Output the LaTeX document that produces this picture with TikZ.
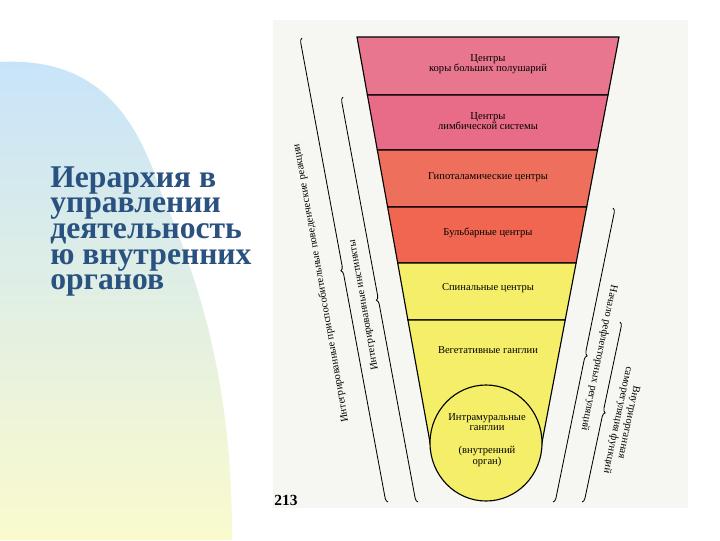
\documentclass[tikz,border=0pt]{standalone}
\usepackage{fontspec}
\setmainfont{Liberation Serif}
\usepackage{tikz}
\usetikzlibrary{decorations.pathreplacing}
\definecolor{titleblue}{RGB}{42,82,128}
\definecolor{paper}{RGB}{246,246,242}
\definecolor{cortexpink}{RGB}{233,118,143}
\definecolor{limbpink}{RGB}{232,108,135}
\definecolor{hypored}{RGB}{238,112,92}
\definecolor{bulbred}{RGB}{240,102,80}
\definecolor{spinyellow}{RGB}{245,238,105}
\definecolor{skyblue}{RGB}{200,228,250}
\definecolor{mintpale}{RGB}{230,243,232}
\definecolor{lemonpale}{RGB}{250,250,205}

\begin{document}
\begin{tikzpicture}[x=0.025cm, y=-0.025cm,
  band/.style={font=\fontsize{7.5}{7.5}\selectfont, align=center, inner sep=0pt},
  bracetext/.style={font=\fontsize{7.5}{8}\selectfont, align=center, inner sep=0pt},
  bracket/.style={decorate, decoration={brace, amplitude=3pt, aspect=0.5}, line width=0.6pt}]
\useasboundingbox (0,0) rectangle (720,540);
\fill[white] (0,0) rectangle (720,540);
\shade[top color=skyblue, middle color=mintpale, bottom color=lemonpale] (0,540) -- (0,62) .. controls (80,58) and (130,95) .. (160,190) .. controls (215,315) and (232,420) .. (232,540) -- cycle;
\node[anchor=north west, align=left, inner sep=0pt, text=titleblue, font=\fontsize{22.5}{18.3}\selectfont\bfseries] (title) at (50,166) {Иерархия в\\управлении\\деятельность\\ю внутренних\\органов};

\fill[paper] (273,20) rectangle (688,508);
\filldraw[fill=cortexpink, line width=0.8pt] (357,37) -- (619,37) -- (608,95) -- (367.4,95) -- cycle;
\filldraw[fill=limbpink, line width=0.8pt] (367.4,95) -- (608,95) -- (597.5,150) -- (377.3,150) -- cycle;
\filldraw[fill=hypored, line width=0.8pt] (377.3,150) -- (597.5,150) -- (586.7,207) -- (387.6,207) -- cycle;
\filldraw[fill=bulbred, line width=0.8pt] (387.6,207) -- (586.7,207) -- (576.1,263) -- (397.7,263) -- cycle;
\filldraw[fill=spinyellow, line width=0.8pt] (397.7,263) -- (576.1,263) -- (565.2,320) -- (407.9,320) -- cycle;
\filldraw[fill=spinyellow, line width=0.8pt] (407.9,320) -- (565.2,320) -- (541.9,443) -- (430.1,443) -- cycle;
\filldraw[fill=spinyellow, line width=0.8pt] (486,443) ellipse [x radius=56, y radius=58];

\node[band] (cortex) at (488,64) {Центры\\коры больших полушарий};
\node[band] (limbic) at (488,121) {Центры\\лимбической системы};
\node[band] (hypo) at (488,177) {Гипоталамические центры};
\node[band] (bulb) at (488,233) {Бульбарные центры};
\node[band] (spinal) at (488,288) {Спинальные центры};
\node[band] (veget) at (488,350) {Вегетативные ганглии};
\node[band] (intra) at (487,440) {Интрамуральные\\ганглии\\[9pt](внутренний\\орган)};

\coordinate (reactTop) at (302,38);
\coordinate (reactBot) at (388,502);
\coordinate (instTop) at (343,97);
\coordinate (instBot) at (418,502);
\coordinate (reflTop) at (613,208);
\coordinate (reflBot) at (553,502);
\coordinate (selfTop) at (620,322);
\coordinate (selfBot) at (582,502);
\draw[bracket] (reactBot) -- (reactTop);
\draw[bracket] (instBot) -- (instTop);
\draw[bracket] (reflTop) -- (reflBot);
\draw[bracket] (selfTop) -- (selfBot);

\node[bracetext, rotate=100] (react) at (321,283) {Интегрированные приспособительные поведенческие реакции};
\node[bracetext, rotate=100] (instinct) at (364,305) {Интегрированные инстинкты};
\node[bracetext, rotate=-101.5] (reflex) at (599,358) {Начало рефлекторных регуляций};
\node[bracetext, rotate=-102] (selfreg) at (623,421) {Внутриорганная\\саморегуляция функций};

\node[anchor=base west, inner sep=0pt, font=\fontsize{11}{11}\selectfont\bfseries] (page) at (274,505) {213};
\end{tikzpicture}
\end{document}
